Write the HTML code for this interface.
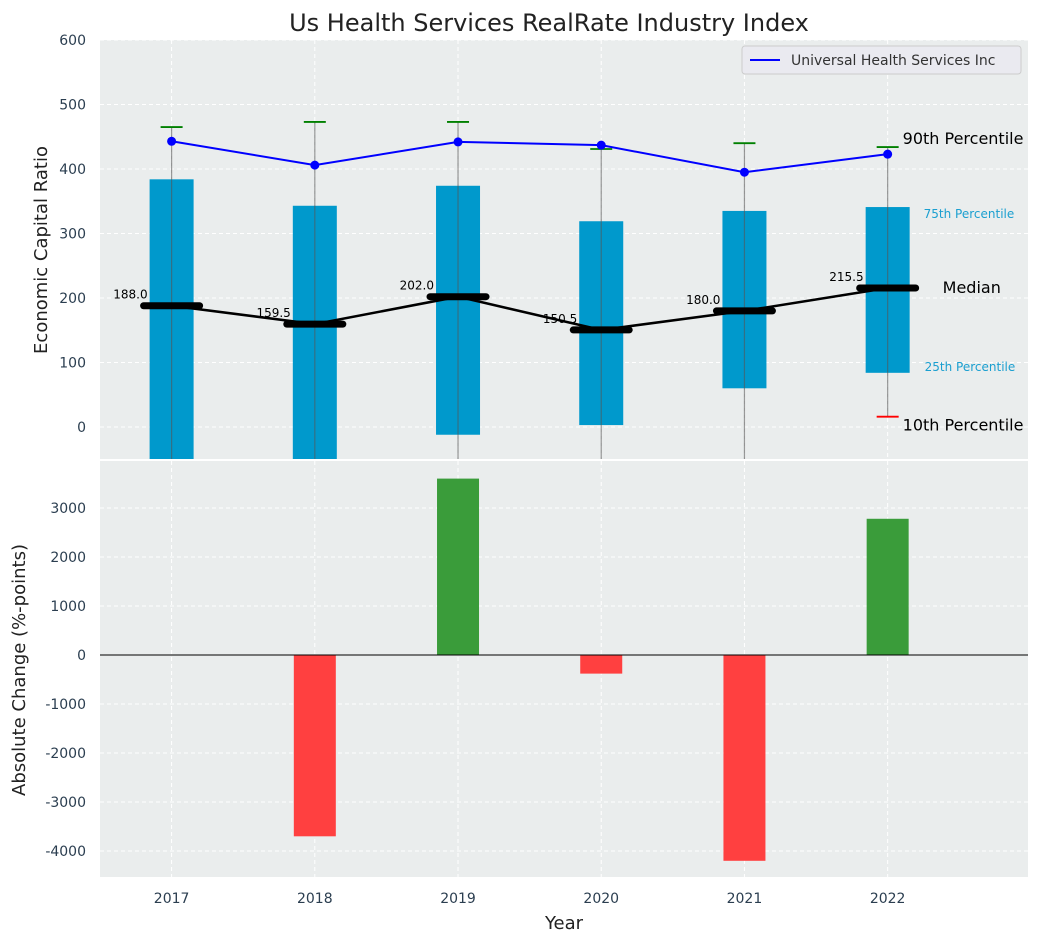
<!DOCTYPE html>
<html><head><meta charset="utf-8"><style>
body{margin:0;background:#fff;font-family:"Liberation Sans","DejaVu Sans",sans-serif}
svg text{font-family:"DejaVu Sans","Liberation Sans",sans-serif}
</style></head><body>
<svg id="c" width="1039" height="942" xmlns="http://www.w3.org/2000/svg"></svg>
<script>
const years=[2017,2018,2019,2020,2021,2022];
const p10=[-200,-200,-200,-200,-200,16];
const p25=[-100,-100,-12,3,60,84];
const medians=[188.0,159.5,202.0,150.5,180.0,215.5];
const p75=[384,343,374,319,335,341];
const p90=[465,473,473,431,440,434];
const company=[443,406,442,437,395,423];
const changes=[0,-3700,3600,-380,-4200,2780];
const topTicks=[0,100,200,300,400,500,600];
const botTicks=[-4000,-3000,-2000,-1000,0,1000,2000,3000];

const svg=document.getElementById('c');const NS='http://www.w3.org/2000/svg';
function el(t,a,p){const e=document.createElementNS(NS,t);for(const k in a)e.setAttribute(k,a[k]);(p||svg).appendChild(e);return e;}
const L=100,R=1028;
const X=v=>L+(v-2016.5)/(6.48)*(R-L);
const T0=40,T1=459,Yt=v=>427-v*0.645;
const B0=461,B1=877,Yb=v=>655-v*0.049;

let g=el('rect',{x:L,y:T0,width:R-L,height:T1-T0,fill:'#eaeded'});

g=el('rect',{x:L,y:B0,width:R-L,height:B1-B0,fill:'#eaeded'});

topTicks.forEach(v=>{const y=Yt(v);
 el('line',{x1:L,x2:R,y1:y,y2:y,stroke:'#fff','stroke-dasharray':'4,3'});
 const t=el('text',{x:L-14,y:y+5,'text-anchor':'end','font-size':14,fill:'#2b3e50'});t.textContent=v;
 });
botTicks.forEach(v=>{const y=Yb(v);
 el('line',{x1:L,x2:R,y1:y,y2:y,stroke:'#fff','stroke-dasharray':'4,3'});
 const t=el('text',{x:L-14,y:y+5,'text-anchor':'end','font-size':14,fill:'#2b3e50'});t.textContent=v;
 });
years.forEach(yr=>{const x=X(yr);
 el('line',{x1:x,x2:x,y1:T0,y2:T1,stroke:'#fff','stroke-dasharray':'4,3'});
 el('line',{x1:x,x2:x,y1:B0,y2:B1,stroke:'#fff','stroke-dasharray':'4,3'});
 const t=el('text',{x:x,y:903,'text-anchor':'middle','font-size':14,fill:'#2b3e50'});t.textContent=yr;
 });

const defs=el('defs',{});const cp=el('clipPath',{id:'tc'},defs);el('rect',{x:L,y:T0,width:R-L,height:T1-T0},cp);
const tg=el('g',{'clip-path':'url(#tc)'});
years.forEach((yr,i)=>{const x=X(yr);
 const b=el('rect',{x:x-22,y:Yt(p75[i]),width:44,height:Yt(p25[i])-Yt(p75[i]),fill:'#0099cc'},tg);
 
 const w=el('line',{x1:x,x2:x,y1:Yt(p90[i]),y2:Yt(p10[i]),stroke:'#555','stroke-opacity':0.6,'stroke-width':1.2},tg);
 
 const c=el('line',{x1:x-11,x2:x+11,y1:Yt(p90[i]),y2:Yt(p90[i]),stroke:'green','stroke-width':1.8},tg);
 
 const c2=el('line',{x1:x-11,x2:x+11,y1:Yt(p10[i]),y2:Yt(p10[i]),stroke:'red','stroke-width':1.8},tg);
 
});
let pl=el('polyline',{points:years.map((y,i)=>X(y)+','+Yt(medians[i])).join(' '),fill:'none',stroke:'#000','stroke-width':2.5},tg);

years.forEach((yr,i)=>{const x=X(yr),y=Yt(medians[i]);
 const m=el('line',{x1:x-28,x2:x+28,y1:y,y2:y,stroke:'#000','stroke-width':7,'stroke-linecap':'round'},tg);
 
 const t=el('text',{x:x-24,y:y-7,'text-anchor':'end','font-size':12,fill:'#000'},tg);t.textContent=medians[i].toFixed(1);
 });
pl=el('polyline',{points:years.map((y,i)=>X(y)+','+Yt(company[i])).join(' '),fill:'none',stroke:'blue','stroke-width':2},tg);

years.forEach((yr,i)=>{const d=el('circle',{cx:X(yr),cy:Yt(company[i]),r:4.5,fill:'blue'},tg);
 });
const lx=X(2022);
[['90th Percentile',lx+15,Yt(p90[5])-3,16,'#000'],['75th Percentile',lx+36,Yt(p75[5])+11,12,'#1a9fd0'],
 ['Median',lx+55,Yt(medians[5])+5,16,'#000'],['25th Percentile',lx+37,Yt(p25[5])-2,12,'#1a9fd0'],
 ['10th Percentile',lx+15,Yt(p10[5])+14,16,'#000']].forEach(a=>{
 const t=el('text',{x:a[1],y:a[2],'font-size':a[3],fill:a[4]});t.textContent=a[0];
 });
const lg=el('g',{});
el('rect',{x:742,y:46,width:279,height:28,rx:3,fill:'#eaeaf0',stroke:'#ccc'},lg);
el('line',{x1:750,x2:780,y1:60,y2:60,stroke:'blue','stroke-width':2},lg);
let t=el('text',{x:791,y:65,'font-size':14,fill:'#333'},lg);t.textContent='Universal Health Services Inc';

years.forEach((yr,i)=>{const v=changes[i];if(!v)return;const x=X(yr);
 const b=el('rect',{x:x-21,y:Math.min(Yb(v),Yb(0)),width:42,height:Math.abs(Yb(v)-Yb(0)),fill:v>0?'#3a9c3a':'#ff4040'});
 });
el('line',{x1:L,x2:R,y1:Yb(0),y2:Yb(0),stroke:'#000','stroke-width':1});

t=el('text',{x:549,y:31,'text-anchor':'middle','font-size':24,fill:'#222'});t.textContent='Us Health Services RealRate Industry Index';

t=el('text',{x:0,y:0,'text-anchor':'middle','font-size':18,fill:'#222',transform:'translate(47,250) rotate(-90)'});t.textContent='Economic Capital Ratio';

t=el('text',{x:0,y:0,'text-anchor':'middle','font-size':18,fill:'#222',transform:'translate(25,670) rotate(-90)'});t.textContent='Absolute Change (%-points)';

t=el('text',{x:564,y:929,'text-anchor':'middle','font-size':18,fill:'#222'});t.textContent='Year';

</script>
</body></html>
